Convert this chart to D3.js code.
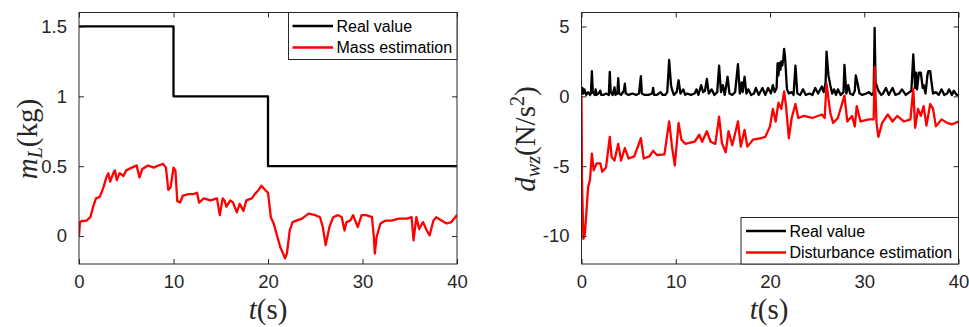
<!DOCTYPE html>
<html><head><meta charset="utf-8">
<script src="https://cdn.jsdelivr.net/npm/d3@7"></script>
<style>
body{margin:0;background:#fff;}
svg{display:block;}
.tick text{font-family:"Liberation Sans",Arial,sans-serif;font-size:18.5px;fill:#262626;}
.lbl{font-family:"Liberation Serif","Times New Roman",serif;fill:#262626;}
.leg{font-family:"Liberation Sans",Arial,sans-serif;font-size:16px;fill:#000;}
</style></head>
<body>
<script>
// ---------------- DATA ----------------
const xTicks = [0, 10, 20, 30, 40];
const xTickLabels = ["0", "10", "20", "30", "40"];

const massTicks = [0, 0.5, 1, 1.5];
const massTickLabels = ["0", "0.5", "1", "1.5"];
const distTicks = [-10, -5, 0, 5];
const distTickLabels = ["-10", "-5", "0", "5"];

const massLegend = ["Real value", "Mass estimation"];
const distLegend = ["Real value", "Disturbance estimation"];

// real payload mass (step)
const massReal = [[0,1.5],[10,1.0],[20,0.5],[40,0.5]];

// estimated mass
const massEst = [[0,0],[0.1,0.1],[0.3,0.107],[0.8,0.11],[1.2,0.135],[1.5,0.21],[1.8,0.27],[2.2,0.28],[2.6,0.35],[2.9,0.42],[3.1,0.45],[3.3,0.39],[3.6,0.445],[3.8,0.47],[4.0,0.40],[4.3,0.45],[4.7,0.43],[5.0,0.47],[5.6,0.49],[6.1,0.505],[6.4,0.42],[6.7,0.48],[7.3,0.505],[7.9,0.49],[8.4,0.505],[8.9,0.517],[9.2,0.49],[9.45,0.33],[9.7,0.35],[10.0,0.49],[10.2,0.47],[10.4,0.25],[10.7,0.24],[11.0,0.29],[11.6,0.30],[12.1,0.30],[12.5,0.31],[12.7,0.24],[13.2,0.27],[13.9,0.255],[14.6,0.27],[14.9,0.15],[15.2,0.27],[15.4,0.255],[15.6,0.21],[16.0,0.255],[16.3,0.24],[16.7,0.17],[17.0,0.23],[17.4,0.18],[17.7,0.255],[18.3,0.27],[18.6,0.30],[19.0,0.33],[19.3,0.36],[19.7,0.33],[20.0,0.31],[20.3,0.135],[20.6,0.09],[20.9,0.017],[21.3,-0.08],[21.6,-0.125],[21.8,-0.16],[22.0,-0.125],[22.3,0.04],[22.6,0.10],[23.0,0.11],[23.6,0.125],[24.3,0.16],[25.0,0.15],[25.5,0.135],[25.8,0.065],[26.1,-0.065],[26.5,0.065],[26.9,0.135],[27.4,0.15],[27.8,0.135],[28.1,0.04],[28.3,0.10],[28.7,0.11],[29.0,0.15],[29.5,0.065],[29.9,0.15],[30.4,0.15],[31.0,0.135],[31.2,-0.005],[31.3,-0.125],[31.5,-0.005],[31.9,0.09],[32.4,0.11],[33.1,0.11],[33.8,0.125],[34.7,0.125],[35.2,0.135],[35.4,-0.03],[35.7,0.135],[36.0,0.05],[36.4,0.10],[36.8,0.04],[37.1,0.005],[37.5,0.11],[37.8,0.135],[38.4,0.11],[38.9,0.09],[39.4,0.10],[40,0.15]];

// real disturbance
const distReal = [[0,0.1],[0.1,0.6],[0.2,0.2],[0.3,0.5],[0.5,0.1],[0.7,0.3],[0.9,0.1],[1.0,0.2],[1.1,1.8],[1.2,0.3],[1.4,0.1],[1.5,0.5],[1.6,0.1],[1.8,0.2],[2.0,0.4],[2.1,0.1],[2.3,0.1],[2.6,0.2],[2.9,0.1],[3.0,1.75],[3.1,0.3],[3.3,0.1],[3.5,0.65],[3.6,0.1],[3.8,0.2],[3.9,1.3],[4.0,0.2],[4.2,0.1],[4.5,0.4],[4.6,0.9],[4.7,0.2],[5.0,0.1],[5.4,0.2],[5.8,0.1],[6.1,0.2],[6.3,1.45],[6.4,0.2],[6.7,0.1],[7.1,0.1],[7.5,0.2],[7.6,0.6],[7.7,0.1],[8.0,0.1],[8.4,0.3],[8.6,0.1],[8.9,0.1],[9.1,0.3],[9.3,2.6],[9.5,0.8],[9.6,0.5],[9.8,0.1],[10.1,0.3],[10.3,1.15],[10.5,0.2],[10.8,0.5],[11.0,0.1],[11.2,0.2],[11.6,0.1],[12.0,0.2],[12.2,0.5],[12.4,0.1],[12.7,0.8],[12.9,0.3],[13.1,0.4],[13.3,1.25],[13.5,0.2],[13.8,0.5],[14.1,0.1],[14.4,0.3],[14.6,2.2],[14.8,0.3],[15.0,0.8],[15.2,0.1],[15.5,1.4],[15.7,0.2],[16.0,0.1],[16.3,0.3],[16.6,2.3],[16.8,0.2],[17.0,1.0],[17.1,0.3],[17.3,1.4],[17.5,0.2],[17.7,0.5],[18.0,0.1],[18.3,0.2],[18.5,0.6],[18.8,0.1],[19.2,0.6],[19.5,0.1],[19.8,0.6],[20.1,0.2],[20.3,0.8],[20.5,0.3],[20.7,0.6],[20.8,2.35],[20.9,1.5],[21.0,2.4],[21.1,1.9],[21.2,2.5],[21.3,2.2],[21.4,2.6],[21.5,3.4],[21.6,2.8],[21.8,0.5],[22.0,0.2],[22.3,0.3],[22.5,0.1],[22.7,2.2],[22.9,0.2],[23.2,0.1],[23.5,0.5],[23.8,0.1],[24.2,0.2],[24.5,0.1],[24.8,0.6],[25.1,0.2],[25.5,0.7],[25.7,0.3],[25.9,1.0],[26.0,3.2],[26.2,1.5],[26.4,0.8],[26.6,0.2],[26.8,0.5],[27.0,0.1],[27.2,0.5],[27.5,0.1],[27.8,0.3],[27.9,2.25],[28.1,0.2],[28.3,0.8],[28.5,0.2],[28.8,0.1],[29.0,0.4],[29.1,1.5],[29.3,0.9],[29.5,0.2],[29.8,0.1],[30.2,0.2],[30.5,0.3],[30.8,0.1],[31.0,0.3],[31.1,4.9],[31.2,1.0],[31.5,0.4],[31.8,0.1],[32.0,0.2],[32.3,0.6],[32.6,0.1],[33.0,0.6],[33.3,0.1],[33.7,0.2],[34.0,0.5],[34.4,0.1],[34.8,0.3],[35.0,0.4],[35.2,3.0],[35.4,0.6],[35.5,1.7],[35.6,0.5],[35.8,1.7],[36.0,1.7],[36.2,0.6],[36.3,0.8],[36.5,0.2],[36.7,1.5],[36.8,1.8],[37.0,1.8],[37.1,1.2],[37.3,0.2],[37.6,0.3],[37.9,0.1],[38.2,0.5],[38.5,0.1],[38.8,0.2],[39.0,0.5],[39.3,0.1],[39.5,0.4],[39.8,0.1],[40,0.1]];

// estimated disturbance
const distEst = [[0,0],[0.05,-6],[0.2,-10.2],[0.35,-9.9],[0.5,-8.5],[0.7,-6.5],[0.9,-6.0],[1.1,-4.1],[1.3,-5.3],[1.6,-4.8],[2.0,-4.8],[2.2,-5.4],[2.6,-5.1],[3.0,-2.9],[3.2,-4.35],[3.5,-4.6],[3.9,-3.4],[4.2,-4.6],[4.6,-3.7],[5.0,-4.45],[5.6,-4.3],[6.3,-3.0],[6.6,-4.45],[7.2,-4.3],[7.6,-3.9],[8.0,-4.2],[8.8,-4.15],[9.3,-1.8],[9.6,-3.6],[9.9,-4.95],[10.3,-1.9],[10.6,-3.1],[11.0,-3.4],[12.0,-3.25],[12.5,-2.75],[12.8,-3.25],[13.3,-2.5],[13.7,-3.25],[14.2,-3.4],[14.6,-1.45],[14.9,-3.35],[15.3,-4.0],[15.6,-2.5],[16.0,-3.5],[16.6,-1.8],[16.9,-3.6],[17.3,-2.4],[17.6,-3.6],[18.2,-3.1],[19.0,-3.0],[19.5,-2.9],[20.0,-2.15],[20.3,-0.9],[20.6,-1.8],[20.9,-0.45],[21.2,-0.9],[21.5,0.35],[21.7,-0.7],[22.0,-3.0],[22.3,-1.55],[22.7,-0.55],[23.0,-1.55],[23.6,-1.4],[24.5,-1.55],[25.5,-1.3],[25.8,-1.55],[26.0,0.9],[26.4,-1.2],[26.7,-1.9],[27.2,-1.55],[27.9,0.05],[28.2,-1.8],[28.7,-1.4],[29.0,-2.15],[29.2,-0.7],[29.6,-1.8],[30.5,-1.65],[31.0,-1.65],[31.1,2.1],[31.3,-1.9],[31.5,-2.9],[31.9,-1.9],[32.5,-1.3],[33.0,-1.8],[33.5,-1.4],[34.2,-1.8],[34.9,-1.65],[35.2,0.55],[35.4,-2.25],[35.7,-0.9],[36.0,-1.4],[36.3,-0.7],[36.6,-2.1],[37.0,-0.55],[37.3,-0.9],[37.6,-2.15],[38.2,-1.65],[38.8,-1.9],[39.3,-2.0],[39.7,-1.9],[40,-1.8]];

// ---------------- DRAW ----------------
const W = 969, H = 327;
const svg = d3.select("body").append("svg").attr("width", W).attr("height", H);
const AX = "#262626";

function panel(opt) {
  const {left, right, top, bottom, ydom, yTicks, yLabels, series, legend, legendBox, id} = opt;
  const x = d3.scaleLinear().domain([0, 40]).range([left, right]);
  const y = d3.scaleLinear().domain(ydom).range([bottom, top]);
  const g = svg.append("g");

  g.append("clipPath").attr("id", id).append("rect")
    .attr("x", left).attr("y", top).attr("width", right - left).attr("height", bottom - top);

  const line = d3.line().x(d => x(d[0])).y(d => y(d[1]));
  const plot = g.append("g").attr("clip-path", `url(#${id})`);
  series.forEach(s => {
    plot.append("path").datum(s.data)
      .attr("d", line.curve(s.step ? d3.curveStepAfter : d3.curveLinear)(s.data))
      .attr("fill", "none").attr("stroke", s.color).attr("stroke-width", 2.3)
      .attr("stroke-linejoin", "round");
  });

  const fmtX = (d) => xTickLabels[xTicks.indexOf(d)];
  const fmtY = (d) => yLabels[yTicks.indexOf(d)];
  const styleAxis = sel => { sel.select(".domain").remove(); sel.selectAll("line").attr("stroke", AX); };

  g.append("g").attr("transform", `translate(0,${bottom})`)
    .call(d3.axisBottom(x).tickValues(xTicks).tickSize(-5).tickPadding(11).tickFormat(fmtX))
    .call(styleAxis);
  g.append("g").attr("transform", `translate(0,${top})`)
    .call(d3.axisTop(x).tickValues(xTicks).tickSize(-5).tickFormat(""))
    .call(styleAxis);
  g.append("g").attr("transform", `translate(${left},0)`)
    .call(d3.axisLeft(y).tickValues(yTicks).tickSize(-5).tickPadding(12).tickFormat(fmtY))
    .call(styleAxis);
  g.append("g").attr("transform", `translate(${right},0)`)
    .call(d3.axisRight(y).tickValues(yTicks).tickSize(-5).tickFormat(""))
    .call(styleAxis);
  g.selectAll(".tick text").attr("fill", AX).attr("font-family", null).attr("font-size", null);

  g.append("rect").attr("x", left).attr("y", top).attr("width", right - left).attr("height", bottom - top)
    .attr("fill", "none").attr("stroke", AX).attr("stroke-width", 1);

  // legend
  const lb = legendBox;
  g.append("rect").attr("x", lb.x0).attr("y", lb.y0).attr("width", lb.x1 - lb.x0).attr("height", lb.y1 - lb.y0)
    .attr("fill", "#fff").attr("stroke", AX).attr("stroke-width", 1);
  legend.forEach((name, i) => {
    const yy = lb.rows[i];
    g.append("line").attr("x1", lb.lx0).attr("x2", lb.lx1).attr("y1", yy).attr("y2", yy)
      .attr("stroke", series[i].color).attr("stroke-width", 2.3);
    g.append("text").attr("class", "leg").attr("x", lb.tx).attr("y", yy).attr("dy", "0.35em").text(name);
  });
  return {x, y, g};
}

const p1 = panel({
  id: "c1", left: 79, right: 457, top: 12.5, bottom: 264, ydom: [-0.2, 1.6],
  yTicks: massTicks, yLabels: massTickLabels,
  series: [{data: massReal, color: "#000", step: true}, {data: massEst, color: "#ff0000"}],
  legend: massLegend,
  legendBox: {x0: 288.5, x1: 457, y0: 12.5, y1: 59.5, rows: [26, 47.5], lx0: 292.5, lx1: 333, tx: 336.5}
});
const p2 = panel({
  id: "c2", left: 581.5, right: 958.5, top: 12.5, bottom: 264, ydom: [-12, 6],
  yTicks: distTicks, yLabels: distTickLabels,
  series: [{data: distReal, color: "#000"}, {data: distEst, color: "#ff0000"}],
  legend: distLegend,
  legendBox: {x0: 741, x1: 958.5, y0: 217.5, y1: 264, rows: [231, 252.5], lx0: 746, lx1: 786, tx: 789.5}
});

// axis labels
function xLabel(cx) {
  const t = svg.append("text").attr("class", "lbl").attr("x", cx).attr("y", 319)
    .attr("text-anchor", "middle").attr("font-size", 29);
  t.append("tspan").attr("font-style", "italic").text("t");
  t.append("tspan").text("(s)");
}
xLabel(268);
xLabel(769);

// y label left: m_L(kg)
{
  const t = svg.append("text").attr("class", "lbl").attr("transform", "translate(37,139) rotate(-90)")
    .attr("text-anchor", "middle").attr("font-size", 29);
  t.append("tspan").attr("font-style", "italic").text("m");
  t.append("tspan").attr("font-style", "italic").attr("font-size", 20).attr("dy", 5).text("L");
  t.append("tspan").attr("dy", -5).text("(kg)");
}
// y label right: d_wz(N/s^2)
{
  const t = svg.append("text").attr("class", "lbl").attr("transform", "translate(535,139) rotate(-90)")
    .attr("text-anchor", "middle").attr("font-size", 29);
  t.append("tspan").attr("font-style", "italic").text("d");
  t.append("tspan").attr("font-style", "italic").attr("font-size", 20).attr("dy", 5).text("wz");
  t.append("tspan").attr("dy", -5).text("(N/s");
  t.append("tspan").attr("font-size", 20).attr("dy", -11).text("2");
  t.append("tspan").attr("dy", 11).text(")");
}
</script>
</body></html>
